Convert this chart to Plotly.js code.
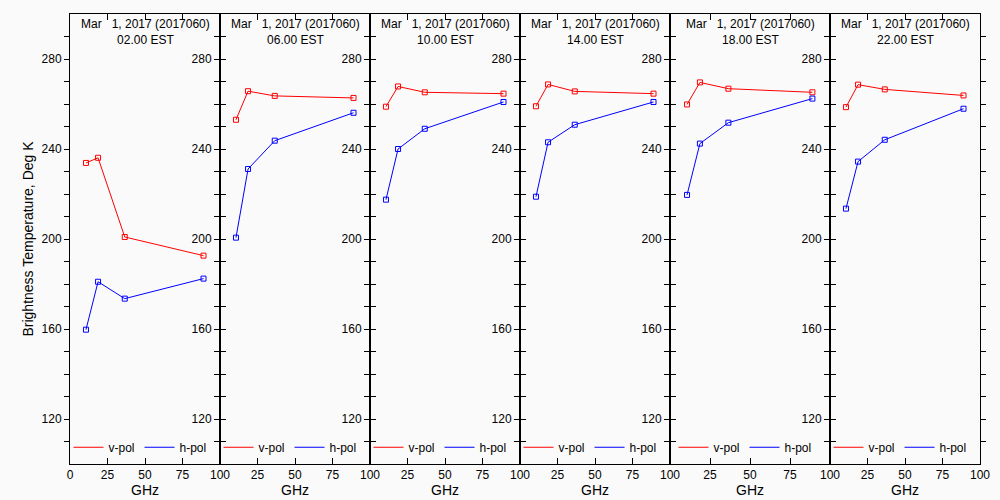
<!DOCTYPE html>
<html>
<head>
<meta charset="utf-8">
<script src="https://cdn.plot.ly/plotly-3.0.1.min.js"></script>
<style>html,body{margin:0;padding:0;background:#fafafa;}#chart{width:1000px;height:500px;}</style>
</head>
<body>
<div id="chart"></div>
<script>
// ---- data ----
const freqsGHz = [10.65, 18.7, 36.5, 89.0];
const dateLabel = 'Mar \u20071, 2017 (2017060)';
const timeLabels = ['02.00 EST', '06.00 EST', '10.00 EST', '14.00 EST', '18.00 EST', '22.00 EST'];
const vPol0200 = [233.8, 236.1, 200.9, 192.6];
const hPol0200 = [159.7, 181.0, 173.5, 182.4];
const vPol0600 = [253.0, 265.7, 263.6, 262.7];
const hPol0600 = [200.6, 231.1, 243.7, 256.1];
const vPol1000 = [258.8, 267.8, 265.2, 264.6];
const hPol1000 = [217.5, 240.0, 249.0, 260.9];
const vPol1400 = [259.0, 268.7, 265.6, 264.6];
const hPol1400 = [218.8, 243.0, 250.8, 260.9];
const vPol1800 = [259.8, 269.6, 266.8, 265.2];
const hPol1800 = [219.6, 242.4, 251.7, 262.4];
const vPol2200 = [258.6, 268.6, 266.5, 263.8];
const hPol2200 = [213.5, 234.4, 244.1, 257.9];
const seriesNames = ['v-pol', 'h-pol'];
const xTickVals = [0, 25, 50, 75, 100];
const xTickTextFirst = ['0', '25', '50', '75', '100'];
const xTickTextOther = ['', '25', '50', '75', '100'];   // "0" coincides with previous panel's "100"
const yTickVals = [110, 120, 130, 140, 150, 160, 170, 180, 190, 200, 210, 220, 230, 240, 250, 260, 270, 280, 290];
const yTickText = ['', '120', '', '', '', '160', '', '', '', '200', '', '', '', '240', '', '', '', '280', ''];

const vSeries = [vPol0200, vPol0600, vPol1000, vPol1400, vPol1800, vPol2200];
const hSeries = [hPol0200, hPol0600, hPol1000, hPol1400, hPol1800, hPol2200];

// ---- layout geometry (pixels of plot area: 70..980) ----
const panelPx = [[70, 220], [220, 370], [370, 520], [520, 670], [670, 830], [830, 980]];
const L = 70, R = 20, T = 14, B = 36, W = 1000, H = 500;
const plotW = W - L - R;
const font = 'Liberation Sans, Arial, sans-serif';

const traces = [];
const layout = {
  width: W, height: H,
  margin: {l: L, r: R, t: T, b: B, pad: 0},
  paper_bgcolor: '#fafafa',
  plot_bgcolor: '#fafafa',
  font: {family: font, size: 11, color: '#000'},
  showlegend: true,
  annotations: []
};

for (let i = 0; i < 6; i++) {
  const s = i === 0 ? '' : String(i + 1);
  const dom = [(panelPx[i][0] - L) / plotW, (panelPx[i][1] - L) / plotW];
  const legId = 'legend' + s;
  layout['xaxis' + s] = {
    domain: dom, anchor: 'y' + s, range: [0, 100],
    tickmode: 'array', tickvals: xTickVals, ticktext: i === 0 ? xTickTextFirst : xTickTextOther,
    ticks: 'inside', ticklen: 6, tickcolor: '#000', mirror: 'ticks',
    showline: true, linecolor: '#000', linewidth: 1,
    showgrid: false, zeroline: false,
    tickfont: {size: 12, color: '#000'},
    title: {text: 'GHz', font: {size: 14, color: '#000'}, standoff: 0},
    fixedrange: true
  };
  layout['yaxis' + s] = {
    domain: [0, 1], anchor: 'x' + s, range: [100, 300],
    tickmode: 'array', tickvals: yTickVals, ticktext: yTickText,
    ticks: 'outside', ticklen: 5, tickcolor: '#000', mirror: 'ticks',
    showline: true, linecolor: '#000', linewidth: 1,
    showgrid: false, zeroline: false,
    tickfont: {size: 12, color: '#000'},
    fixedrange: true
  };
  if (i === 0) {
    layout.yaxis.title = {text: 'Brightness Temperature, Deg K', font: {size: 14, color: '#000'}, standoff: 4};
  }
  layout[legId] = {
    x: ((panelPx[i][0] + panelPx[i][1]) / 2 - 5 - L) / plotW, xanchor: 'center',
    y: 0.005, yanchor: 'bottom',
    orientation: 'h', bgcolor: 'rgba(0,0,0,0)', borderwidth: 0,
    font: {size: 12, color: '#000'}, itemwidth: 30, tracegroupgap: 0
  };
  const colors = ['#ff0000', '#0000ff'];
  [vSeries[i], hSeries[i]].forEach((ys, k) => {
    traces.push({
      x: freqsGHz, y: ys, xaxis: 'x' + s, yaxis: 'y' + s,
      type: 'scatter', mode: 'lines', name: seriesNames[k],
      line: {color: colors[k], width: 1},
      legend: legId, showlegend: true, hoverinfo: 'x+y+name'
    });
    traces.push({
      x: freqsGHz, y: ys, xaxis: 'x' + s, yaxis: 'y' + s,
      type: 'scatter', mode: 'markers', name: seriesNames[k],
      marker: {symbol: 'square-open', size: 5, color: colors[k], line: {width: 1, color: colors[k]}},
      legend: legId, showlegend: false, hoverinfo: 'skip'
    });
  });
  layout.annotations.push({
    xref: 'x' + s + ' domain', yref: 'y' + s + ' domain',
    x: 0.5, y: 1, xanchor: 'center', yanchor: 'top', yshift: -1,
    text: dateLabel + '<br>' + timeLabels[i],
    showarrow: false, align: 'center',
    font: {size: 12, color: '#000', family: font}
  });
}

Plotly.newPlot('chart', traces, layout, {staticPlot: true, displayModeBar: false});
</script>
</body>
</html>
